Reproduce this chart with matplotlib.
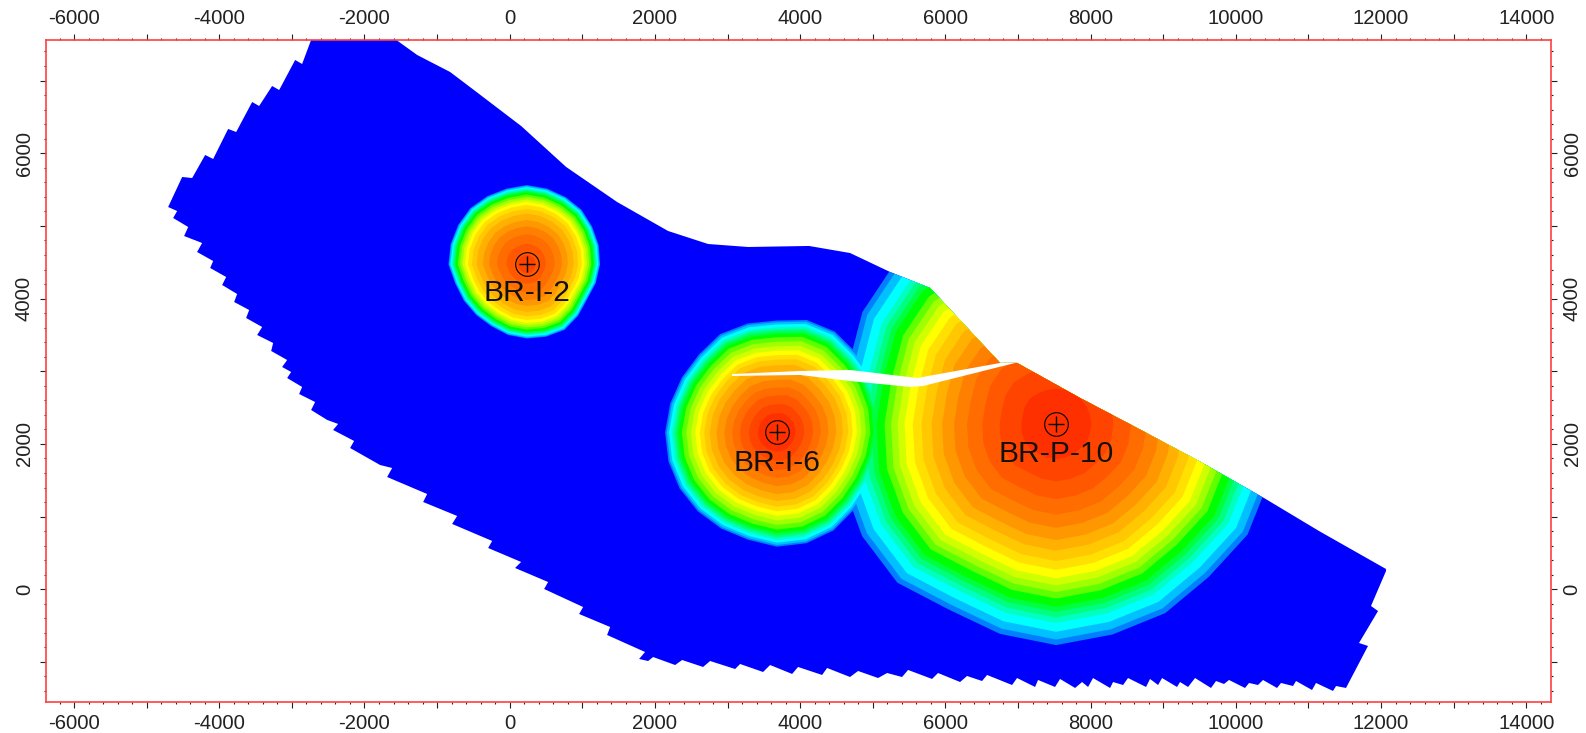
import numpy as np
import matplotlib
matplotlib.use("Agg")
import matplotlib.pyplot as plt
from matplotlib.patches import Polygon
from matplotlib.ticker import MultipleLocator

plt.rcParams['font.family'] = ['Liberation Sans', 'DejaVu Sans']

# grid outline, clockwise from the top left
domain_x = [-2720, -1619, -1275, -821, -476, -132, 157, 777, 1479, 2181, 2732, 3283, 4123, 4687, 5238, 5789, 6161, 6753,
            6987, 7854, 8639, 9465, 10388, 11145, 12068, 12068, 11861, 11958, 11696, 11820, 11517, 11380, 11338, 11104,
            11049, 10829, 10787, 10622, 10567, 10374, 10305, 10182, 10126, 9906, 9837, 9727, 9658, 9438, 9342, 9231,
            9190, 8984, 8929, 8818, 8763, 8515, 8447, 8309, 8268, 8033, 7965, 7882, 7786, 7579, 7510, 7276, 7235, 6987,
            6918, 6574, 6505, 6298, 6202, 5899, 5816, 5486, 5403, 5197, 5073, 4797, 4687, 4371, 4302, 3971, 3889, 3586,
            3489, 3173, 3104, 2760, 2663, 2374, 2278, 1975, 1906, 1782, 1864, 1341, 1383, 956, 1011, 474, 529, 74, 157,
            -297, -242, -793, -724, -1192, -1137, -1688, -1619, -1785, -2198, -2143, -2432, -2363, -2514, -2735, -2680,
            -2900, -2859, -3065, -3010, -3134, -3065, -3285, -3258, -3478, -3409, -3630, -3588, -3795, -3754, -3960,
            -3905, -4125, -4084, -4305, -4236, -4484, -4428, -4635, -4580, -4704, -4511, -4373, -4194, -4084, -3878,
            -3767, -3547, -3451, -3272, -3175, -2955, -2859]
domain_y = [7600, 7600, 7352, 7118, 6857, 6595, 6375, 5811, 5329, 4930, 4751, 4710, 4724, 4627, 4366, 4146, 3747, 3114,
            3114, 2632, 2220, 1779, 1256, 802, 279, 252, -230, -299, -739, -780, -1358, -1331, -1399, -1289,
            -1386, -1262, -1331, -1289, -1358, -1248, -1317, -1289, -1358, -1248, -1303, -1262, -1358, -1221, -1344, -1276,
            -1344, -1221, -1317, -1234, -1344, -1221, -1317, -1276, -1358, -1221, -1344, -1276, -1358, -1234, -1344, -1248, -1344, -1221,
            -1317, -1179, -1262, -1193, -1276, -1152, -1234, -1110, -1207, -1152, -1221, -1124, -1207, -1083, -1179, -1069, -1165, -1042,
            -1138, -1028, -1097, -987, -1069, -973, -1042, -932, -987, -959, -863, -629, -519, -340, -244, 4, 100, 293, 376,
            568, 665, 899, 1009, 1201, 1311, 1545, 1669, 1710, 1944, 2041, 2192, 2275, 2330, 2467, 2577,
            2687, 2784, 2907, 2990, 3059, 3155, 3279, 3389, 3499, 3609, 3733, 3843, 3953, 4063, 4187,
            4297, 4421, 4517, 4641, 4765, 4861, 4985, 5109, 5205, 5260, 5673, 5659, 5976, 5921, 6334,
            6292, 6705, 6650, 6925, 6870, 7283, 7228]

# white gap along the fault
fault_x = [3062, 3999, 4687, 5610, 6753, 6959, 5692, 5514, 4687, 3999, 3062]
fault_y = [2962, 3004, 3018, 2907, 3114, 3114, 2797, 2784, 2866, 2949, 2935]

well_names = ["BR-I-2", "BR-I-6", "BR-P-10"]
well_x = [235, 3678, 7524]
well_y = [4470, 2160, 2275]
label_y = [4070, 1735, 1860]

# outer edge of the plume seen from each well, every 15 degrees
ring_angles = np.arange(0, 360, 15)
i2_radii = [1010, 1025, 1040, 1065, 1070, 1080, 1092, 1080, 1085, 1097, 1090, 1085,
            1079, 1020, 1000, 985, 980, 1005, 1019, 1030, 1040, 1000, 960, 985]
i6_radii = [1515, 1530, 1540, 1547, 1600, 1600, 1538, 1550, 1560, 1515, 1510, 1520,
            1538, 1545, 1545, 1538, 1530, 1530, 1574, 1580, 1560, 1505, 1480, 1490]
p10_radii = [3040, 3030, 3030, 3030, 3030, 3030, 3030, 3030, 3060, 3135, 3080, 2970,
             2990, 3050, 3085, 3090, 2950, 2990, 3043, 3000, 3006, 2975, 3045, 3035]

band_colors = ["#0080ff", "#00c0ff", "#00ffff", "#00ffc0", "#00ff80", "#00ff40", "#00ff00", "#60ff00", "#a0ff00", "#d0ff00",
               "#ffff00", "#ffe000", "#ffc800", "#ffb000", "#ff9800", "#ff8000", "#ff6c00", "#ff5800", "#ff4400", "#ff3000"]
# how far out each colour reaches, as a share of the outer edge
i2_reach = [1.0, .99, .975, .955, .94, .925, .91, .88, .85, .82, .79, .75, .70, .64, .56, .48, .38, .26, .12, 0]
i6_reach = [1.0, .985, .965, .94, .92, .90, .88, .85, .81, .77, .73, .69, .65, .60, .54, .47, .40, .33, .25, .17]
p10_reach = [1.0, .975, .94, .90, .875, .85, .827, .79, .76, .73, .698, .66, .62, .573, .525, .47, .41, .34, .26, .16]

radii = [i2_radii, i6_radii, p10_radii]
reach = [i2_reach, i6_reach, p10_reach]

W, H = 1586, 733
fig = plt.figure(figsize=(W / 100, H / 100), dpi=100)
ax = fig.add_axes([45.5 / W, 1 - 702 / H, (1551 - 45.5) / W, (702 - 39.5) / H])
ax.set_xlim(-6393, 14340)
ax.set_ylim(-1551, 7565)

domain = Polygon(np.column_stack([domain_x, domain_y]), closed=True, fc="#0000ff", ec="none", zorder=1)
ax.add_patch(domain)

# lowest colour first over all wells, so the higher plume wins where they meet
theta = np.radians(ring_angles)
for level, color in enumerate(band_colors):
    for w in range(len(well_names)):
        r = np.array(radii[w]) * reach[w][level]
        if r.max() == 0:
            continue
        band = ax.fill(well_x[w] + r * np.cos(theta), well_y[w] + r * np.sin(theta),
                       fc=color, ec="none", zorder=2)[0]
        band.set_clip_path(domain)

ax.fill(fault_x, fault_y, fc="white", ec="none", zorder=3)

ax.plot(well_x, well_y, ls="none", marker="o", ms=17, mfc="none", mec="black", mew=0.8, zorder=4)
ax.plot(well_x, well_y, ls="none", marker="+", ms=12, mec="black", mew=1.0, zorder=4)
for name, x, y in zip(well_names, well_x, label_y):
    ax.text(x, y, name, fontsize=21.6, color="#111111", ha="center", va="center", zorder=5)

for spine in ax.spines.values():
    spine.set_color("#ff4040")
    spine.set_linewidth(1.2)

ax.xaxis.set_major_locator(MultipleLocator(1000))
ax.xaxis.set_minor_locator(MultipleLocator(200))
ax.yaxis.set_major_locator(MultipleLocator(1000))
ax.yaxis.set_minor_locator(MultipleLocator(200))
ax.tick_params(which="major", length=4.3, width=0.8, color="#222222", labelsize=14.6, labelcolor="#222222", pad=4,
               top=True, right=True, labeltop=True, labelright=True)
ax.tick_params(which="minor", length=1.6, width=0.8, color="#222222", top=True, right=True)

xlabels = np.arange(-6000, 14001, 1000)
ax.set_xticks(xlabels)
ax.set_xticklabels([str(v) if v % 2000 == 0 else "" for v in xlabels])
ylabels = np.arange(-1000, 7001, 1000)
ax.set_yticks(ylabels)
ax.set_yticklabels([str(v) if v % 2000 == 0 else "" for v in ylabels], rotation=90, va="center")

fig.savefig("out.png", dpi=100)
